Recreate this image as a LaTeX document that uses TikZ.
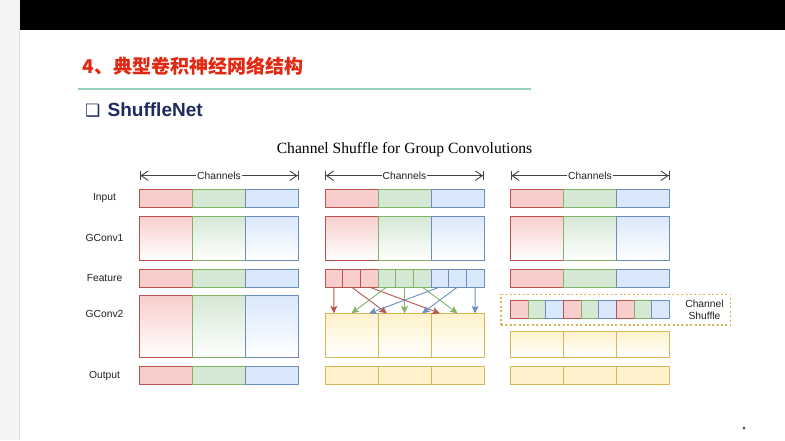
\documentclass[tikz,border=0pt]{standalone}
\usepackage{fontspec}
\setmainfont{Liberation Sans}
\newfontfamily\serifTNR{Liberation Serif}
\newfontfamily\cjkfont{Noto Sans CJK SC}
\newfontfamily\symfont{DejaVu Sans}
\usetikzlibrary{arrows.meta,calc}
\definecolor{rf}{HTML}{F8CECC}\definecolor{rs}{HTML}{B85450}
\definecolor{gf}{HTML}{D5E8D4}\definecolor{gs}{HTML}{82B366}
\definecolor{bf}{HTML}{DAE8FC}\definecolor{bs}{HTML}{6C8EBF}
\definecolor{yf}{HTML}{FFF2CC}\definecolor{ys}{HTML}{D6B656}
\definecolor{titlered}{RGB}{226,40,18}
\definecolor{navy}{HTML}{1F2B5E}
\definecolor{teal}{RGB}{150,206,194}
\definecolor{stripgray}{HTML}{F4F4F4}
\definecolor{txt}{HTML}{222222}
\begin{document}
\begin{tikzpicture}[x=1pt,y=-1pt,
  cell/.style={draw, rectangle, inner sep=0pt, outer sep=0pt, anchor=north west, line width=0.9pt},
  lab/.style={inner sep=0pt, text=txt, font=\fontsize{10.3}{12}\selectfont},
  chlabel/.style={fill=white, inner sep=1pt, text=txt, font=\fontsize{10.3}{12}\selectfont},
  charr/.style={draw=txt!85, line width=0.9pt,
    {Bar[width=9.5pt]Straight Barb[length=7pt,width=9.5pt]}-{Straight Barb[length=7pt,width=9.5pt]Bar[width=9.5pt]}},
  arr/.style={line width=0.9pt, -{Stealth[length=7.5pt,width=7pt,inset=1.8pt]}},
]
\useasboundingbox (0,0) rectangle (785,440);
% slide frame
\fill[white] (0,0) rectangle (785,440);
\fill[stripgray] (0,0) rectangle (20,440);
\draw[black!12, line width=0.8pt] (19.6,29) -- (19.6,440);
\fill[black] (20,0) rectangle (785,29.5);
% headings
\node[anchor=base west, inner sep=0pt, text=titlered, font=\cjkfont\bfseries\fontsize{19}{19}\selectfont] (title) at (82.5,73.5) {4、典型卷积神经网络结构};
\coordinate (lineL) at (78,89.3);
\coordinate (lineR) at (531,89.3);
\draw[teal, line width=2pt] (lineL) -- (lineR);
\node[anchor=base west, inner sep=0pt, text=navy, font=\symfont\fontsize{17}{17}\selectfont] (bullet) at (85,116.5) {❑};
\node[anchor=base west, inner sep=0pt, text=navy, font=\bfseries\fontsize{19}{19}\selectfont] (sub) at (107.5,116.5) {ShuffleNet};
\node[anchor=base, inner sep=0pt, text=black, font=\serifTNR\fontsize{15.6}{16}\selectfont] (dtitle) at (404.5,153.5) {Channel Shuffle for Group Convolutions};
% row labels
\node[lab] (lInput) at (104.5,198.5) {Input};
\node[lab] (lG1) at (104.5,238) {GConv1};
\node[lab] (lFeat) at (104.5,278) {Feature};
\node[lab] (lG2) at (104.5,314) {GConv2};
\node[lab] (lOut) at (104.5,375.5) {Output};
% common rows for the three columns
\foreach \c/\x in {1/139.5,2/325,3/510.5}{
  \coordinate (chL\c) at (\x,175.7);
  \coordinate (chR\c) at (\x+159,175.7);
  \draw[charr] (chL\c) -- node[chlabel] (chT\c) {Channels} (chR\c);
  \foreach \k/\s in {0/r,1/g,2/b}{
    \node[cell, fill=\s f, draw=\s s, minimum width=53pt, minimum height=18pt] (in\c\k) at (\x+53*\k,189.5) {};
    \node[cell, top color=\s f, bottom color=white, draw=\s s, minimum width=53pt, minimum height=44pt] (gc\c\k) at (\x+53*\k,216) {};
  }
}
% column 1: feature, gconv2, output
\foreach \k/\s in {0/r,1/g,2/b}{
  \node[cell, fill=\s f, draw=\s s, minimum width=53pt, minimum height=18pt] (fa\k) at (139.5+53*\k,269) {};
  \node[cell, top color=\s f, bottom color=white, draw=\s s, minimum width=53pt, minimum height=62pt] (ga\k) at (139.5+53*\k,295.7) {};
  \node[cell, fill=\s f, draw=\s s, minimum width=53pt, minimum height=18pt] (oa\k) at (139.5+53*\k,366.5) {};
}
% column 2: split feature, yellow gconv2 and output
\foreach \i/\s in {0/r,1/r,2/r,3/g,4/g,5/g,6/b,7/b,8/b}{
  \node[cell, fill=\s f, draw=\s s, minimum width=17.667pt, minimum height=18pt] (fb\i) at (325+17.667*\i,269) {};
}
\foreach \k in {0,1,2}{
  \node[cell, top color=yf, bottom color=white, draw=ys, minimum width=53pt, minimum height=44.4pt] (gb\k) at (325+53*\k,313.3) {};
  \node[cell, fill=yf, draw=ys, minimum width=53pt, minimum height=18pt] (ob\k) at (325+53*\k,366.5) {};
}
\foreach \g/\s in {0/r,1/g,2/b}{
  \foreach \k in {0,1,2}{
    \pgfmathtruncatemacro\src{3*\g+\k}
    \draw[arr, draw=\s s] (fb\src.south) -- ($(gb\k.north west)!{(2*\g+1)/6}!(gb\k.north east)$);
  }
}
% column 3: feature, shuffled channels, yellow gconv2 and output
\foreach \k/\s in {0/r,1/g,2/b}{
  \node[cell, fill=\s f, draw=\s s, minimum width=53pt, minimum height=18pt] (fc\k) at (510.5+53*\k,269) {};
}
\node[cell, draw=ys, line width=1.2pt, dash pattern=on 2pt off 2.4pt, minimum width=229.7pt, minimum height=30.7pt] (shbox) at (501,294.3) {};
\foreach \i/\s in {0/r,1/g,2/b,3/r,4/g,5/b,6/r,7/g,8/b}{
  \node[cell, fill=\s f, draw=\s s, minimum width=17.667pt, minimum height=17.5pt] (sc\i) at (510.5+17.667*\i,300.7) {};
}
\node[lab, align=center, font=\fontsize{10.3}{11.6}\selectfont] (shlab) at (704.5,310) {Channel\\Shuffle};
\foreach \k in {0,1,2}{
  \node[cell, top color=yf, bottom color=white, draw=ys, minimum width=53pt, minimum height=26.3pt] (gcc\k) at (510.5+53*\k,331) {};
  \node[cell, fill=yf, draw=ys, minimum width=53pt, minimum height=18pt] (occ\k) at (510.5+53*\k,366.5) {};
}
% small dot bottom right
\fill[black!70] (744,428) circle (1.5pt);
\end{tikzpicture}
\end{document}
